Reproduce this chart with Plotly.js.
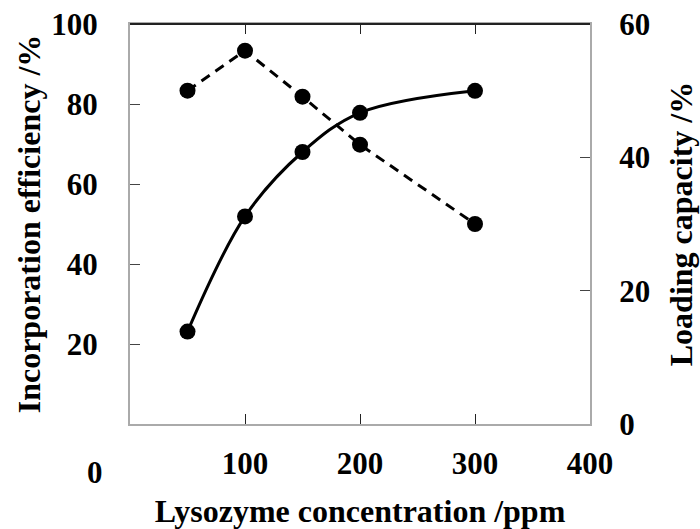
<!DOCTYPE html>
<html>
<head>
<meta charset="utf-8">
<script src="https://cdn.plot.ly/plotly-3.0.1.min.js"></script>
<style>html,body{margin:0;padding:0;background:#fff;}</style>
</head>
<body>
<div id="chart" style="width:700px;height:529px;"></div>
<script>
const concentration = [50, 100, 150, 200, 300];
const incorporationEfficiency = [23.1, 51.9, 68.0, 77.8, 83.3];
const loadingCapacity = [50.0, 56.0, 49.1, 41.9, 30.0];
const xTickVals = [100, 200, 300, 400];
const xTickText = ['100', '200', '300', '400'];
const leftTickVals = [20, 40, 60, 80, 100];
const rightTickVals = [0, 20, 40, 60];

const font = {family: '"Liberation Serif", "Times New Roman", serif', color: '#000'};
const tickFont = Object.assign({}, font, {size: 31, weight: 'bold'});
const titleFont = Object.assign({}, font, {size: 32, weight: 'bold'});

const traces = [
  {
    x: concentration, y: incorporationEfficiency, yaxis: 'y',
    mode: 'lines+markers', line: {color: '#000', width: 3, shape: 'spline', smoothing: 1},
    marker: {color: '#000', size: 16}, name: 'Incorporation efficiency'
  },
  {
    x: concentration, y: loadingCapacity, yaxis: 'y2',
    mode: 'lines+markers', line: {color: '#000', width: 3, dash: '10px,7px'},
    marker: {color: '#000', size: 16}, name: 'Loading capacity'
  }
];

const layout = {
  width: 700, height: 529,
  margin: {l: 130, r: 110, t: 24, b: 105},
  paper_bgcolor: '#fff', plot_bgcolor: '#fff',
  showlegend: false,
  font: font,
  xaxis: {
    range: [0, 400], tickvals: xTickVals, ticktext: xTickText,
    ticks: 'inside', ticklen: 10, tickcolor: '#222', tickwidth: 1,
    showline: true, linecolor: '#aaa', linewidth: 2, mirror: 'ticks',
    showgrid: false, zeroline: false, tickfont: tickFont, ticklabelstandoff: 11,
    title: {text: 'Lysozyme concentration /ppm', font: titleFont, standoff: 21}
  },
  yaxis: {
    range: [0, 100], tickvals: leftTickVals,
    ticks: 'inside', ticklen: 10, tickcolor: '#444', tickwidth: 1,
    showline: true, linecolor: '#aaa', linewidth: 2,
    showgrid: false, zeroline: false, tickfont: tickFont, ticklabelstandoff: 24,
    title: {text: 'Incorporation efficiency /%', font: titleFont, standoff: 1}
  },
  yaxis2: {
    range: [0, 60], tickvals: rightTickVals, overlaying: 'y', side: 'right',
    ticks: 'inside', ticklen: 10, tickcolor: '#444', tickwidth: 1,
    showline: true, linecolor: '#aaa', linewidth: 2,
    showgrid: false, zeroline: false, tickfont: tickFont, ticklabelstandoff: 21,
    title: {text: 'Loading capacity /%', font: titleFont, standoff: 20}
  },
  shapes: [
    {type: 'line', xref: 'paper', yref: 'paper', x0: 0, x1: 1, y0: 1, y1: 1,
     line: {color: '#222', width: 2}}
  ],
  annotations: [
    {text: '0', xref: 'paper', yref: 'paper', x: -0.076, y: -0.12,
     showarrow: false, font: tickFont, xanchor: 'center', yanchor: 'middle'}
  ]
};

Plotly.newPlot('chart', traces, layout, {displayModeBar: false, staticPlot: true});
</script>
</body>
</html>
